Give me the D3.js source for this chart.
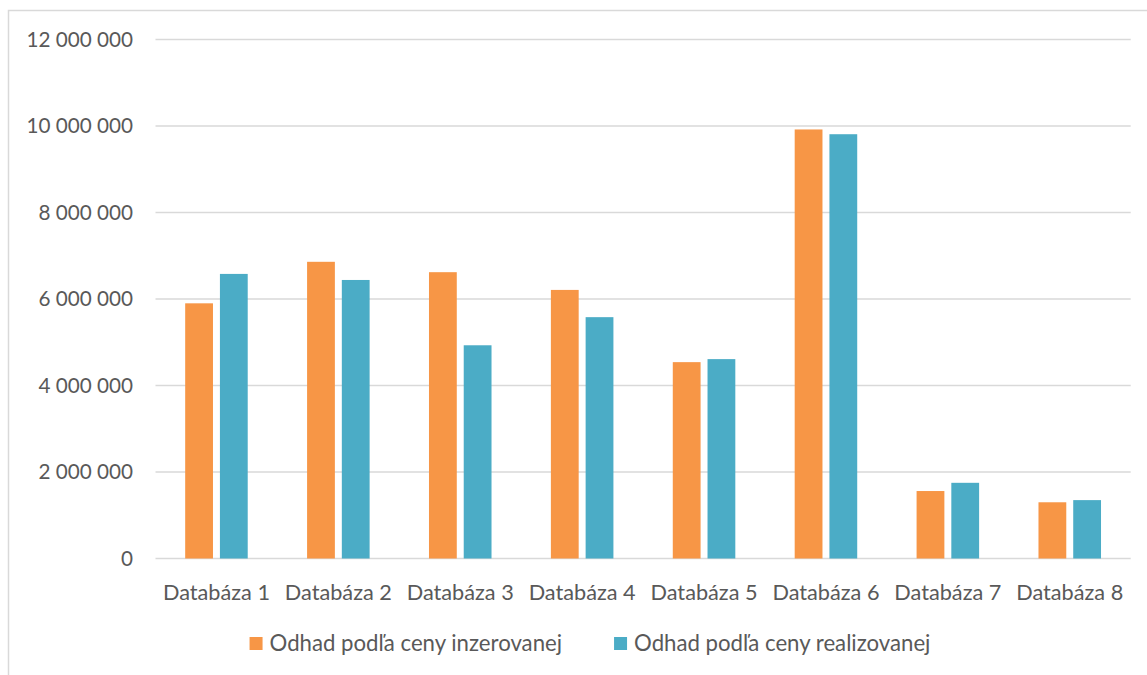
<!DOCTYPE html>
<html>
<head>
<meta charset="utf-8">
<script src="https://cdn.jsdelivr.net/npm/d3@7"></script>
<style>
  body { margin: 0; background: #fff; }
  svg text { font-family: Lato, "Open Sans", sans-serif; fill: #595959; }
</style>
</head>
<body>
<div class="chart"></div>
<script>
const categories = ['Databáza 1', 'Databáza 2', 'Databáza 3', 'Databáza 4',
    'Databáza 5', 'Databáza 6', 'Databáza 7', 'Databáza 8'];
const seriesNames = ['Odhad podľa ceny inzerovanej', 'Odhad podľa ceny realizovanej'];
const inzerovana = [5900000, 6860000, 6620000, 6210000, 4540000, 9920000, 1560000, 1300000];
const realizovana = [6580000, 6440000, 4930000, 5580000, 4610000, 9810000, 1750000, 1350000];
const yTicks = [0, 2000000, 4000000, 6000000, 8000000, 10000000, 12000000];
const colors = ['#F79646', '#4BACC6'];

const settings = {
    width: 1147,
    height: 675,
    left: 155.5,
    right: 1130.7,
    top: 39.5,
    bottom: 558.5,
    tickFont: 20.7,
    catFont: 21.7,
    legendFont: 22.2
};

const rows = categories.map((c, i) => ({
    cat: c,
    values: [inzerovana[i], realizovana[i]]
}));

const fmt = d3.formatLocale({
    decimal: ',',
    thousands: ' ',
    grouping: [3],
    currency: ['', ' €']
}).format(',d');

const svg = d3.select('.chart')
    .append('svg')
    .attr('width', settings.width)
    .attr('height', settings.height);

// chart frame (only top and left edges visible in the picture)
svg.append('path')
    .attr('d', `M8.5,${settings.height} V10.5 H${settings.width}`)
    .attr('fill', 'none')
    .attr('stroke', '#D9D9D9')
    .attr('stroke-width', 1.5);

const x0 = d3.scaleBand()
    .domain(categories)
    .range([settings.left, settings.right])
    .paddingInner(0.487)
    .paddingOuter(0.2435);

const x1 = d3.scaleBand()
    .domain([0, 1])
    .range([0, x0.bandwidth()])
    .paddingInner(0.2);

const y = d3.scaleLinear()
    .domain([0, 12000000])
    .range([settings.bottom, settings.top]);

// gridlines
svg.append('g')
    .selectAll('line')
    .data(yTicks)
    .enter()
    .append('line')
    .attr('x1', settings.left)
    .attr('x2', settings.right)
    .attr('y1', d => y(d))
    .attr('y2', d => y(d))
    .attr('stroke', '#D9D9D9')
    .attr('stroke-width', 1.5);

// y labels
svg.append('g')
    .selectAll('text')
    .data(yTicks)
    .enter()
    .append('text')
    .attr('x', 133)
    .attr('y', d => y(d))
    .attr('dy', '0.35em')
    .attr('text-anchor', 'end')
    .style('font-size', settings.tickFont + 'px')
    .text(d => fmt(d));

// bars
const groups = svg.append('g')
    .selectAll('g')
    .data(rows)
    .enter()
    .append('g')
    .attr('transform', d => `translate(${x0(d.cat)},0)`);

groups.selectAll('rect')
    .data(d => d.values.map((v, i) => ({ v, i })))
    .enter()
    .append('rect')
    .attr('x', d => x1(d.i))
    .attr('y', d => y(d.v))
    .attr('width', x1.bandwidth())
    .attr('height', d => settings.bottom - y(d.v))
    .attr('fill', d => colors[d.i]);

// category labels
svg.append('g')
    .selectAll('text')
    .data(categories)
    .enter()
    .append('text')
    .attr('x', d => x0(d) + x0.bandwidth() / 2)
    .attr('y', 592)
    .attr('dy', '0.35em')
    .attr('text-anchor', 'middle')
    .style('font-size', settings.catFont + 'px')
    .text(d => d);

// legend
const legend = svg.append('g');
const items = legend.selectAll('g')
    .data(seriesNames)
    .enter()
    .append('g');

items.append('rect')
    .attr('width', 13)
    .attr('height', 13)
    .attr('y', 637)
    .attr('fill', (d, i) => colors[i]);

items.append('text')
    .attr('x', 20)
    .attr('y', 643.5)
    .attr('dy', '0.35em')
    .style('font-size', settings.legendFont + 'px')
    .text(d => d);

let widths = [];
items.each(function() {
    widths.push(this.getBBox().width);
});
const gapBetween = 52;
const total = d3.sum(widths) + gapBetween;
let lx = 590 - total / 2;
items.attr('transform', (d, i) => {
    const t = `translate(${lx},0)`;
    lx += widths[i] + gapBetween;
    return t;
});
</script>
</body>
</html>
